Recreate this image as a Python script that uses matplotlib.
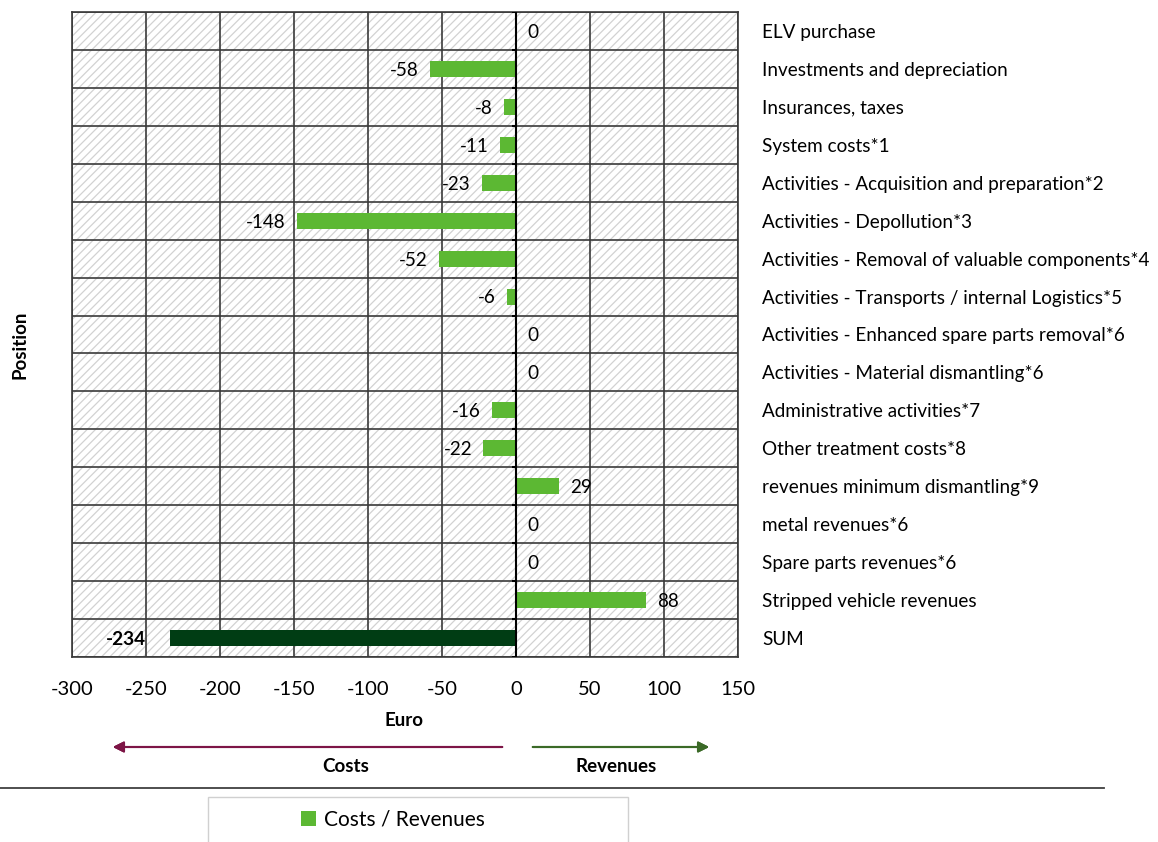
import matplotlib.pyplot as plt
from matplotlib.patches import Rectangle, Patch
from matplotlib.lines import Line2D
from matplotlib.ticker import FixedLocator

plt.rcParams['font.family'] = ['Lato', 'DejaVu Sans']
plt.rcParams['hatch.linewidth'] = 0.9

# Positions du bilan (haut -> bas) et montants en euro
positions = [
    'ELV purchase',
    'Investments and depreciation',
    'Insurances, taxes',
    'System costs*1',
    'Activities - Acquisition and preparation*2',
    'Activities - Depollution*3',
    'Activities - Removal of valuable components*4',
    'Activities - Transports / internal Logistics*5',
    'Activities - Enhanced spare parts removal*6',
    'Activities - Material dismantling*6',
    'Administrative activities*7',
    'Other treatment costs*8',
    'revenues minimum dismantling*9',
    'metal revenues*6',
    'Spare parts revenues*6',
    'Stripped vehicle revenues',
    'SUM',
]
montants = [0, -58, -8, -11, -23, -148, -52, -6, 0, 0, -16, -22, 29, 0, 0, 88, -234]
x_ticks = [-300, -250, -200, -150, -100, -50, 0, 50, 100, 150]

vert = '#5cb833'
vert_somme = '#003d14'
grille = '#3a3a3a'

fig = plt.figure(figsize=(11.58, 8.42), dpi=100)
ax = fig.add_axes([72 / 1158, 1 - 657 / 842, 666 / 1158, 645 / 842])

n = len(positions)
ys = list(range(n))
couleurs = [vert] * (n - 1) + [vert_somme]
ax.barh(ys, montants, height=0.42, color=couleurs, zorder=3)

# fond hachuré
ax.add_patch(Rectangle((0, 0), 1, 1, transform=ax.transAxes, facecolor='white',
                       edgecolor='#d2d2d2', hatch='////', lw=0, zorder=0))

ax.set_xlim(-300, 150)
ax.set_ylim(n - 0.5, -0.5)
ax.xaxis.set_major_locator(FixedLocator(x_ticks))
ax.set_xticklabels([str(v) for v in x_ticks])
ax.tick_params(axis='x', length=0, pad=17, labelsize=14.5)

# libellés des positions à droite, grille horizontale entre les lignes
ax.set_yticks(ys)
ax.set_yticklabels(positions)
ax.set_yticks([y + 0.5 for y in range(-1, n)], minor=True)
ax.tick_params(axis='y', which='major', left=False, right=False, labelleft=False,
               labelright=True, labelsize=13.6, pad=14)
ax.tick_params(axis='y', which='minor', left=False, right=False)
ax.grid(axis='x', which='major', color=grille, lw=1.2, zorder=1)
ax.grid(axis='y', which='minor', color=grille, lw=1.2, zorder=1)
for s in ax.spines.values():
    s.set_color(grille)
    s.set_linewidth(1.2)

# axe zéro avec petites graduations
ax.axvline(0, color='black', lw=1.5, zorder=4)
for y in range(-1, n):
    ax.plot([-3, 0], [y + 0.5, y + 0.5], color='black', lw=1.5, zorder=4,
            solid_capstyle='butt')

# étiquettes de valeur
for y, v in zip(ys, montants):
    somme = positions[y] == 'SUM'
    gras = 'bold' if somme else 'normal'
    if v < 0:
        dx = -17 if somme else -8
        ax.annotate(str(v), (v, y), xytext=(dx, -1), textcoords='offset points',
                    ha='right', va='center', fontsize=13.6, fontweight=gras, zorder=5)
    else:
        ax.annotate(str(v), (v, y), xytext=(8, -1), textcoords='offset points',
                    ha='left', va='center', fontsize=13.6, fontweight=gras, zorder=5)

fig.text(20 / 1158, 1 - 345 / 842, 'Position', rotation=90, ha='center', va='center',
         fontsize=13.5, fontweight='bold')
fig.text(404 / 1158, 1 - 720 / 842, 'Euro', ha='center', va='center',
         fontsize=13.5, fontweight='bold')

# flèches coûts / recettes
fig.add_artist(plt.annotate('', xy=(110 / 1158, 1 - 747 / 842), xytext=(505 / 1158, 1 - 747 / 842),
                            xycoords='figure fraction', textcoords='figure fraction',
                            arrowprops=dict(arrowstyle='-|>', color='#7d1546', lw=1.5,
                                            mutation_scale=16)))
fig.add_artist(plt.annotate('', xy=(712 / 1158, 1 - 747 / 842), xytext=(530 / 1158, 1 - 747 / 842),
                            xycoords='figure fraction', textcoords='figure fraction',
                            arrowprops=dict(arrowstyle='-|>', color='#3b6a27', lw=1.5,
                                            mutation_scale=16)))
fig.text(346 / 1158, 1 - 766 / 842, 'Costs', ha='center', va='center', fontsize=13.5, fontweight='bold')
fig.text(616 / 1158, 1 - 766 / 842, 'Revenues', ha='center', va='center', fontsize=13.5, fontweight='bold')

fig.add_artist(Line2D([0, 1104 / 1158], [1 - 788 / 842] * 2, color='#404040', lw=1.3))

# légende
fig.add_artist(Rectangle((208 / 1158, -0.05), 420 / 1158, 0.05 + 45 / 842,
                         transform=fig.transFigure, facecolor='white', edgecolor='#d0d0d0', lw=1))
fig.legend(handles=[Patch(facecolor=vert, label='Costs / Revenues')], loc='center',
           bbox_to_anchor=(393 / 1158, 1 - 820 / 842), frameon=False, fontsize=15,
           handlelength=0.7, handleheight=0.7, handletextpad=0.4)

fig.savefig('out.png', dpi=100)
